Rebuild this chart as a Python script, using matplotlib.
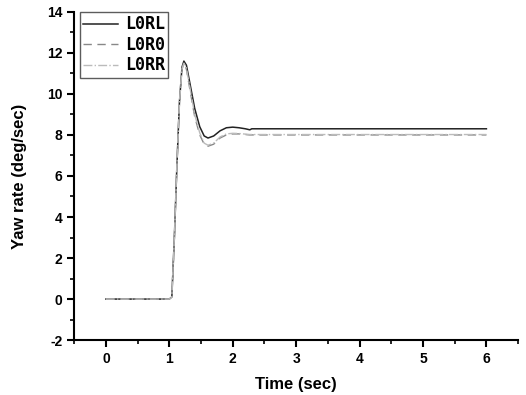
import matplotlib.pyplot as plt
import numpy as np
from matplotlib.ticker import MultipleLocator

# time (sec) and yaw rate (deg/sec)
t = [0.0, 1.00, 1.04, 1.08, 1.12, 1.16, 1.20, 1.23, 1.27, 1.32, 1.40, 1.48, 1.55,
     1.61, 1.70, 1.80, 1.90, 2.00, 2.10, 2.20, 2.27, 2.30, 2.50, 3.0, 4.0, 5.0, 6.0]
lorl = [0.0, 0.0, 0.1, 3.0, 6.5, 9.6, 11.3, 11.6, 11.4, 10.6, 9.3, 8.4, 7.95,
        7.85, 7.95, 8.2, 8.35, 8.38, 8.35, 8.3, 8.25, 8.3, 8.3, 8.3, 8.3, 8.3, 8.3]
loro = [0.0, 0.0, 0.1, 3.0, 6.5, 9.6, 11.2, 11.5, 11.2, 10.3, 8.9, 8.0, 7.55,
        7.45, 7.55, 7.85, 8.0, 8.05, 8.05, 8.02, 8.0, 8.0, 8.0, 8.0, 8.0, 8.0, 8.0]
lorr = [0.0, 0.0, 0.1, 3.0, 6.5, 9.6, 11.2, 11.5, 11.25, 10.4, 9.0, 8.1, 7.6,
        7.5, 7.6, 7.9, 8.05, 8.08, 8.07, 8.04, 8.02, 8.02, 8.02, 8.02, 8.02, 8.02, 8.02]

plt.rcParams['font.family'] = ['Liberation Sans', 'DejaVu Sans']
plt.rcParams['axes.unicode_minus'] = False

fig = plt.figure(figsize=(5.26, 3.95), dpi=100)
ax = fig.add_axes([0.141, 0.139, 0.844, 0.831])

ax.plot(t, lorl, '-', color='#222222', lw=1.1, label='L0RL')
ax.plot(t, loro, '--', color='#888888', lw=1.0, dashes=(6, 4), label='L0R0')
ax.plot(t, lorr, '-.', color='#bbbbbb', lw=1.0, label='L0RR')

ax.set_xlim(-0.5, 6.5)
ax.set_ylim(-2, 14)
ax.xaxis.set_major_locator(MultipleLocator(1))
ax.xaxis.set_minor_locator(MultipleLocator(0.5))
ax.yaxis.set_major_locator(MultipleLocator(2))
ax.yaxis.set_minor_locator(MultipleLocator(1))
ax.tick_params(which='major', direction='out', length=5, width=1.5, labelsize=10)
ax.tick_params(which='minor', direction='out', length=3, width=1.2)
for lab in ax.get_xticklabels() + ax.get_yticklabels():
    lab.set_fontweight('bold')

ax.spines['top'].set_visible(False)
ax.spines['right'].set_visible(False)
ax.spines['left'].set_linewidth(1.5)
ax.spines['bottom'].set_linewidth(1.5)

ax.set_xlabel('Time (sec)', fontsize=12, fontweight='bold', labelpad=8)
ax.set_ylabel('Yaw rate (deg/sec)', fontsize=12, fontweight='bold', labelpad=14)

leg = ax.legend(loc='upper left', bbox_to_anchor=(80 / 526, 1 - 12 / 395),
                bbox_transform=fig.transFigure, frameon=True, fancybox=False,
                edgecolor='#333333',
                prop={'family': 'DejaVu Sans Mono', 'size': 12, 'weight': 'bold'},
                handlelength=2.1, handletextpad=0.4, borderaxespad=0.0,
                borderpad=0.2, labelspacing=0.15)
leg.get_frame().set_linewidth(1.0)

fig.savefig('out.png', dpi=100)
